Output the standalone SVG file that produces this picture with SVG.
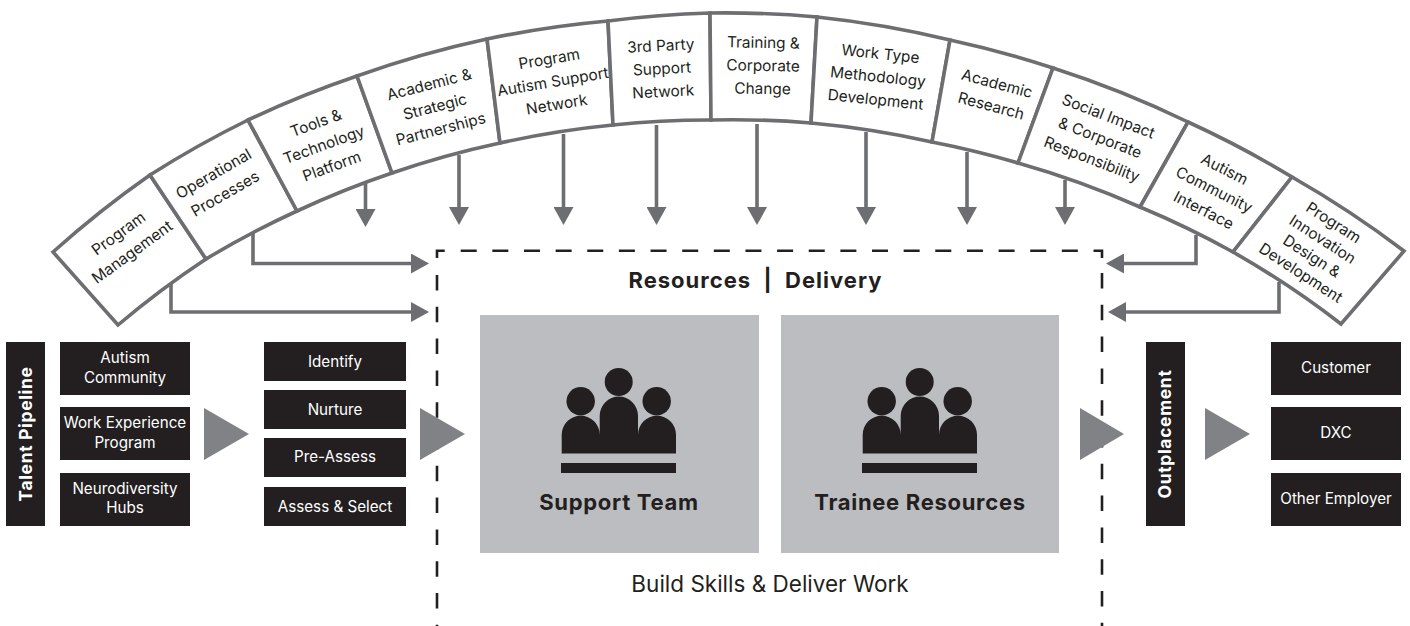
<svg xmlns="http://www.w3.org/2000/svg" xmlns:xlink="http://www.w3.org/1999/xlink" width="1410" height="626" viewBox="0 0 1410 626">
<style>
text{font-family:"Inter","Noto Sans","Liberation Sans",sans-serif;}
.cell{fill:#fff;stroke:#6d6e71;stroke-width:3.6;stroke-linejoin:miter;}
.arc{font-size:15.4px;fill:#231f20;text-anchor:middle;}
.box{fill:#231f20;}
.wt{font-size:15.2px;fill:#fff;text-anchor:middle;}
.wb{font-size:17.5px;font-weight:700;letter-spacing:.65px;fill:#fff;text-anchor:middle;}
.gray{fill:#bcbdc0;}
.tri{fill:#808285;}
.b{font-size:22px;font-weight:700;letter-spacing:.7px;fill:#231f20;text-anchor:middle;}
.h{letter-spacing:1px;}
.r{font-size:22.5px;fill:#231f20;text-anchor:middle;}
.conn{fill:none;stroke:#6d6e71;stroke-width:3.6;}
.dash{fill:none;stroke:#231f20;stroke-width:2.6;}
.ico{fill:#231f20;}
</style>
<defs>
<marker id="ah" markerUnits="userSpaceOnUse" markerWidth="18" markerHeight="20" viewBox="0 0 18 20" refX="2" refY="10" orient="auto"><path d="M0 0L18 10L0 20Z" fill="#6d6e71"/></marker>
<g id="icon">
<circle cx="618.7" cy="382" r="14"/><circle cx="580.7" cy="401.3" r="14.2"/><circle cx="656.7" cy="401.3" r="14.2"/>
<path d="M561.7 453.5V434.7A19 19 0 0 1 599.7 434.7V415.7A19 19 0 0 1 638 415.7V434.7A19 19 0 0 1 676 434.7V453.5Z"/>
<rect x="561" y="463" width="115" height="10"/>
</g>
</defs>

<g id="connectors">
<path class="conn" marker-end="url(#ah)" d="M365.5 183V211"/>
<path class="conn" marker-end="url(#ah)" d="M459 155V209"/>
<path class="conn" marker-end="url(#ah)" d="M563.5 134V209"/>
<path class="conn" marker-end="url(#ah)" d="M656.5 125V209"/>
<path class="conn" marker-end="url(#ah)" d="M757 124V209"/>
<path class="conn" marker-end="url(#ah)" d="M866 132V209"/>
<path class="conn" marker-end="url(#ah)" d="M967 152V209"/>
<path class="conn" marker-end="url(#ah)" d="M1065 180V209"/>
<path class="conn" marker-end="url(#ah)" d="M253 233V263.5H413"/>
<path class="conn" marker-end="url(#ah)" d="M171 283V312H413"/>
<path class="conn" marker-end="url(#ah)" d="M1196 235V263.5H1122"/>
<path class="conn" marker-end="url(#ah)" d="M1279 282V312H1124"/>
</g>

<g id="resources-frame">
<path class="dash" d="M437 258V250.7H444.7"/>
<path class="dash" stroke-dasharray="16 15.64" d="M460.7 250.7H1080"/>
<path class="dash" d="M1093.5 250.7H1102V258"/>
<path class="dash" stroke-dasharray="15.5 16.3" d="M437 275V626"/>
<path class="dash" stroke-dasharray="15.5 16.3" d="M1102 273V626"/>
<text class="b h" x="755.5" y="288" xml:space="preserve">Resources  |  Delivery</text>
<text class="r" x="770" y="592">Build Skills &amp; Deliver Work</text>
</g>

<g id="n-program-management"><path class="cell" d="M53 252A1025 1025 0 0 1 150 175L206 259A925 925 0 0 0 118 325Z"/>
<text class="arc" transform="translate(125.5 243) rotate(-36)"><tspan x="0" y="-6.5">Program</tspan><tspan x="0" y="16.5">Management</tspan></text></g>
<g id="n-operational"><path class="cell" d="M150 175A1025 1025 0 0 1 248 120L297 211A925 925 0 0 0 206 259Z"/>
<text class="arc" transform="translate(219.5 184) rotate(-30)"><tspan x="0" y="-6.5">Operational</tspan><tspan x="0" y="16.5">Processes</tspan></text></g>
<g id="n-tools"><path class="cell" d="M248 120A1025 1025 0 0 1 357 76L392 173A925 925 0 0 0 297 211Z"/>
<text class="arc" transform="translate(324 145) rotate(-20)"><tspan x="0" y="-18">Tools &amp;</tspan><tspan x="0" y="5">Technology</tspan><tspan x="0" y="28">Platform</tspan></text></g>
<g id="n-academic-partnerships"><path class="cell" d="M357 76A1025 1025 0 0 1 487 39L500 143A925 925 0 0 0 392 173Z"/>
<text class="arc" transform="translate(435 107) rotate(-14.5)"><tspan x="0" y="-18">Academic &amp;</tspan><tspan x="0" y="5">Strategic</tspan><tspan x="0" y="28">Partnerships</tspan></text></g>
<g id="n-autism-support"><path class="cell" d="M487 39A1025 1025 0 0 1 608 21L613 125A925 925 0 0 0 500 143Z"/>
<text class="arc" transform="translate(553 82) rotate(-9.5)"><tspan x="0" y="-18">Program</tspan><tspan x="0" y="5">Autism Support</tspan><tspan x="0" y="28">Network</tspan></text></g>
<g id="n-third-party"><path class="cell" d="M608 21A1025 1025 0 0 1 710 13L711 120A925 925 0 0 0 613 125Z"/>
<text class="arc" transform="translate(662 69) rotate(-3)"><tspan x="0" y="-18">3rd Party</tspan><tspan x="0" y="5">Support</tspan><tspan x="0" y="28">Network</tspan></text></g>
<g id="n-training"><path class="cell" d="M710 13A1025 1025 0 0 1 817 17L811 123A925 925 0 0 0 711 120Z"/>
<text class="arc" transform="translate(763 66) rotate(1)"><tspan x="0" y="-18">Training &amp;</tspan><tspan x="0" y="5">Corporate</tspan><tspan x="0" y="28">Change</tspan></text></g>
<g id="n-work-type"><path class="cell" d="M817 17A1025 1025 0 0 1 950 40L932 142A925 925 0 0 0 811 123Z"/>
<text class="arc" transform="translate(878 77) rotate(6)"><tspan x="0" y="-18">Work Type</tspan><tspan x="0" y="5">Methodology</tspan><tspan x="0" y="28">Development</tspan></text></g>
<g id="n-academic-research"><path class="cell" d="M950 40A1025 1025 0 0 1 1053 68L1018 163A925 925 0 0 0 932 142Z"/>
<text class="arc" transform="translate(994 95) rotate(15)"><tspan x="0" y="-6.5">Academic</tspan><tspan x="0" y="16.5">Research</tspan></text></g>
<g id="n-social-impact"><path class="cell" d="M1053 68A1025 1025 0 0 1 1188 122L1140 207A925 925 0 0 0 1018 163Z"/>
<text class="arc" transform="translate(1100 138) rotate(21)"><tspan x="0" y="-18">Social Impact</tspan><tspan x="0" y="5">&amp; Corporate</tspan><tspan x="0" y="28">Responsibility</tspan></text></g>
<g id="n-community-interface"><path class="cell" d="M1188 122A1025 1025 0 0 1 1292 177L1233 252A925 925 0 0 0 1140 207Z"/>
<text class="arc" transform="translate(1214 190) rotate(27)"><tspan x="0" y="-18">Autism</tspan><tspan x="0" y="5">Community</tspan><tspan x="0" y="28">Interface</tspan></text></g>
<g id="n-innovation"><path class="cell" d="M1292 177A1025 1025 0 0 1 1404 251L1341 324A925 925 0 0 0 1233 252Z"/>
<text class="arc" transform="translate(1317 248) rotate(33)"><tspan x="0" y="-25">Program</tspan><tspan x="0" y="-5">Innovation</tspan><tspan x="0" y="15">Design &amp;</tspan><tspan x="0" y="35">Development</tspan></text></g>

<g id="n-talent-pipeline"><rect class="box" x="6" y="342" width="39" height="184"/><text class="wb" transform="translate(32 434) rotate(-90)">Talent Pipeline</text></g>
<g id="n-autism-community"><rect class="box" x="60" y="342" width="130" height="53"/><text class="wt"><tspan x="125" y="363">Autism</tspan><tspan x="125" y="383">Community</tspan></text></g>
<g id="n-work-experience"><rect class="box" x="60" y="407" width="130" height="53"/><text class="wt"><tspan x="125" y="428">Work Experience</tspan><tspan x="125" y="448">Program</tspan></text></g>
<g id="n-neurodiversity"><rect class="box" x="60" y="473" width="130" height="53"/><text class="wt"><tspan x="125" y="494">Neurodiversity</tspan><tspan x="125" y="513">Hubs</tspan></text></g>
<polygon id="flow-1" class="tri" points="204,408 249,434 204,460"/>
<g id="n-identify"><rect class="box" x="264" y="342" width="142" height="39"/><text class="wt" x="335" y="367">Identify</text></g>
<g id="n-nurture"><rect class="box" x="264" y="390" width="142" height="39"/><text class="wt" x="335" y="415">Nurture</text></g>
<g id="n-pre-assess"><rect class="box" x="264" y="438" width="142" height="39"/><text class="wt" x="335" y="462">Pre-Assess</text></g>
<g id="n-assess-select"><rect class="box" x="264" y="487" width="142" height="39"/><text class="wt" x="335" y="512">Assess &amp; Select</text></g>
<polygon id="flow-2" class="tri" points="420,408 465,434 420,460"/>

<g id="n-support-team"><rect class="gray" x="480" y="315" width="279" height="238"/><use href="#icon" class="ico"/><text class="b" x="619" y="510">Support Team</text></g>
<g id="n-trainee-resources"><rect class="gray" x="781" y="315" width="278" height="238"/><use href="#icon" class="ico" x="301"/><text class="b" x="920" y="510">Trainee Resources</text></g>

<polygon id="flow-3" class="tri" points="1080,408 1124,434 1080,460"/>
<g id="n-outplacement"><rect class="box" x="1146" y="342" width="39" height="184"/><text class="wb" transform="translate(1171 434) rotate(-90)">Outplacement</text></g>
<polygon id="flow-4" class="tri" points="1205,408 1250,434 1205,460"/>
<g id="n-customer"><rect class="box" x="1271" y="342" width="130" height="53"/><text class="wt" x="1336" y="373">Customer</text></g>
<g id="n-dxc"><rect class="box" x="1271" y="407" width="130" height="53"/><text class="wt" x="1336" y="438">DXC</text></g>
<g id="n-other-employer"><rect class="box" x="1271" y="473" width="130" height="53"/><text class="wt" x="1336" y="504">Other Employer</text></g>
</svg>
